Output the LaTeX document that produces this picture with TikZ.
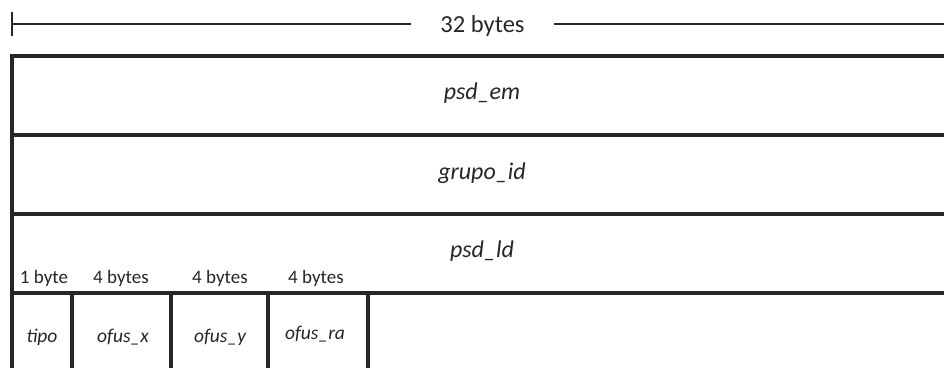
\documentclass[tikz,border=0pt]{standalone}
\usepackage{fontspec}
\setmainfont{Carlito}
\begin{document}
\begin{tikzpicture}[x=1pt,y=-1pt,
  frame/.style={line width=3.6pt,draw=black!85},
  dimline/.style={line width=2pt,draw=black!85},
  title/.style={font=\fontsize{24.5}{28}\selectfont,text=black!85,anchor=base},
  field/.style={font=\fontsize{24}{28}\selectfont\itshape,text=black!85,anchor=base},
  small/.style={font=\fontsize{19}{22}\selectfont,text=black!85,anchor=base},
  smallit/.style={font=\fontsize{19.5}{22}\selectfont\itshape,text=black!85,anchor=base}]
\useasboundingbox (0,0) rectangle (944,367);
\clip (0,0) rectangle (944,367);

% overall width dimension
\coordinate (dL) at (12,24);
\coordinate (dR) at (950,24);
\node[title, inner sep=0pt] (width) at (482.5,32) {32 bytes};
\draw[dimline] (12,12) -- (12,36);
\draw[dimline] (dL) -- ([xshift=-29pt]dL -| width.west);
\draw[dimline] ([xshift=29pt]dR -| width.east) -- (dR);

% outer frame and row separators
\coordinate (r0L) at (12,56);   \coordinate (r0R) at (950,56);
\coordinate (r1L) at (12,135);  \coordinate (r1R) at (950,135);
\coordinate (r2L) at (12,214);  \coordinate (r2R) at (950,214);
\coordinate (r3L) at (12,293);  \coordinate (r3R) at (950,293);
\coordinate (bot) at (12,372);
\draw[frame] (r0R) -- (r0L) -- (bot);
\draw[frame] (r1L) -- (r1R);
\draw[frame] (r2L) -- (r2R);
\draw[frame] (r3L) -- (r3R);

% field boundaries in the last row
\foreach \x in {72,171,268,368}
  \draw[frame] (\x,293) -- (\x,372);

% field names
\node[field] (psdem) at (482,99) {psd\_em};
\node[field] (grupo) at (482,179) {grupo\_id};
\node[field] (psdld) at (482,257) {psd\_ld};

% byte sizes
\node[small] (b1) at (44,283) {1 byte};
\node[small] (b2) at (121,283) {4 bytes};
\node[small] (b3) at (220,283) {4 bytes};
\node[small] (b4) at (316,283) {4 bytes};

% sub-fields
\node[smallit] (tipo) at (42,342) {tipo};
\node[smallit] (ofx) at (123,342) {ofus\_x};
\node[smallit] (ofy) at (220,342) {ofus\_y};
\node[smallit] (ofr) at (315,339) {ofus\_ra};
\end{tikzpicture}
\end{document}
